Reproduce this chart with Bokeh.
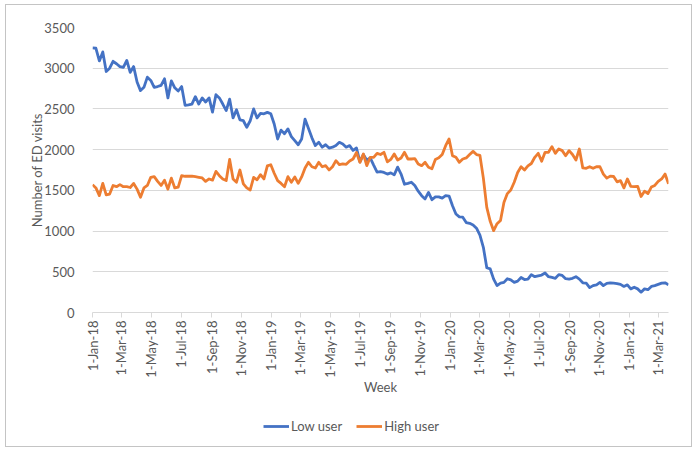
import datetime as dt
from bokeh.plotting import figure
from bokeh.layouts import column
from bokeh.models import (ColumnDataSource, FixedTicker, Legend, LegendItem,
                          Range1d, SingleIntervalTicker)
from bokeh.embed import file_html
from bokeh.resources import INLINE

# ---------------- data ----------------
start_date = dt.datetime(2018, 1, 1)

low_user = [
    3250, 3245, 3090, 3200, 2960, 3000, 3085, 3055, 3020, 3010,
    3095, 2950, 3020, 2830, 2725, 2765, 2890, 2850, 2765, 2775,
    2790, 2870, 2635, 2845, 2760, 2720, 2775, 2545, 2550, 2560,
    2650, 2560, 2635, 2585, 2635, 2460, 2675,
    2635, 2560, 2480, 2620, 2390, 2490, 2365, 2355, 2275, 2355,
    2500, 2390, 2445, 2440, 2458, 2440, 2315, 2130, 2240, 2195,
    2255, 2160, 2110, 2060, 2130, 2375, 2260, 2145, 2050, 2090,
    2030, 2060, 2020, 2030, 2050, 2090, 2070, 2030, 2050, 1990,
    2020, 1850,
    1940, 1870, 1900, 1810, 1725, 1730, 1720, 1700, 1715, 1690,
    1785, 1700, 1575, 1585, 1600, 1560, 1490, 1435, 1395, 1475,
    1385, 1420, 1420, 1405, 1435, 1430, 1310, 1210, 1175, 1170,
    1105, 1095, 1075, 1035, 950, 800, 550, 535, 410, 330,
    360, 370, 415, 400, 370, 385, 430, 405, 410, 465,
    440, 450, 460, 485, 440, 430, 420, 465, 455, 415,
    410, 420, 440, 410, 365, 360, 305, 330, 340, 370,
    330, 358, 365, 360, 355, 345, 320, 340, 290, 310,
    290, 250, 290, 280, 320, 330, 345, 360, 365, 340,
]

high_user = [
    1570, 1530, 1435, 1585, 1445, 1455, 1560, 1545, 1570, 1545,
    1545, 1535, 1585, 1515, 1415, 1530, 1560, 1660, 1668, 1610,
    1560, 1625, 1515, 1650, 1530, 1540, 1680, 1673, 1673, 1675,
    1668, 1660, 1652, 1610, 1640, 1625, 1733,
    1680, 1640, 1620, 1880, 1640, 1600, 1750, 1580, 1530, 1505,
    1660, 1630, 1693, 1640, 1800, 1815, 1710, 1620, 1585, 1545,
    1668, 1600, 1665, 1586, 1665, 1775, 1844, 1790, 1775, 1844,
    1790, 1803, 1750, 1790, 1865, 1815, 1825, 1820, 1860, 1885,
    1965, 1844, 1947, 1803, 1906, 1906, 1955, 1940, 1967, 1850,
    1880, 1947, 1873, 1898, 1967, 1885, 1885, 1890, 1824, 1803,
    1844, 1783, 1765, 1880, 1900, 1940, 2049, 2131, 1926, 1906,
    1844, 1885, 1898, 1940, 1979, 1940, 1930, 1650, 1290, 1120,
    1005, 1090, 1130, 1350, 1460, 1505, 1600, 1720, 1790, 1750,
    1800, 1830, 1906, 1955, 1857, 1967, 1967, 2037, 1955, 2008,
    1988, 1926, 1988, 1940, 1873, 2008, 1775, 1770, 1791, 1770,
    1791, 1790, 1700, 1650, 1675, 1670, 1605, 1619, 1530, 1640,
    1550, 1545, 1550, 1425, 1490, 1460, 1540, 1560, 1610, 1640,
    1700, 1580,
]

weeks = [start_date + dt.timedelta(weeks=i) for i in range(len(low_user))]

tick_dates = []
y_, m_ = 2018, 1
while (y_, m_) <= (2021, 3):
    tick_dates.append(dt.datetime(y_, m_, 1))
    m_ += 2
    if m_ > 12:
        m_ -= 12
        y_ += 1
tick_labels = [f"{d.day}-{d.strftime('%b')}-{d.strftime('%y')}" for d in tick_dates]

series_names = ["Low user", "High user"]
series_colors = ["#4472C4", "#ED7D31"]

# ---------------- figure ----------------
FONT = "Lato"
TXT = "#595959"
GRID = "#d9d9d9"

def ms(d):
    return (d - dt.datetime(1970, 1, 1)).total_seconds() * 1000.0

W = 685
p = figure(width=W, height=408, x_axis_type="datetime",
           output_backend="svg", toolbar_location=None,
           min_border_left=86, min_border_right=23,
           min_border_top=22, min_border_bottom=101,
           x_range=Range1d(ms(weeks[0]), ms(weeks[-1])),
           y_range=Range1d(0, 3500))
p.outline_line_color = None
p.background_fill_color = "white"
p.border_fill_color = "white"

src = ColumnDataSource(dict(week=weeks, low=low_user, high=high_user))
p.line("week", "low", source=src, line_color=series_colors[0],
       line_width=2.8, line_join="round")
p.line("week", "high", source=src, line_color=series_colors[1],
       line_width=2.8, line_join="round")

# x axis
xa = p.xaxis[0]
xa.ticker = FixedTicker(ticks=[ms(d) for d in tick_dates])
xa.major_label_overrides = {ms(d): lab for d, lab in zip(tick_dates, tick_labels)}
xa.major_label_orientation = 1.5707963267948966
xa.major_label_text_font = FONT
xa.major_label_text_font_size = "13px"
xa.major_label_text_color = TXT
xa.axis_line_color = GRID
xa.major_tick_line_color = GRID
xa.major_tick_out = 5
xa.major_tick_in = 0
xa.minor_tick_line_color = None
xa.major_label_standoff = 3
xa.axis_label = "Week"
xa.axis_label_text_font = FONT
xa.axis_label_text_font_size = "13px"
xa.axis_label_text_font_style = "normal"
xa.axis_label_text_color = TXT
xa.axis_label_standoff = -2

# y axis
ya = p.yaxis[0]
ya.ticker = SingleIntervalTicker(interval=500)
ya.major_label_text_font = FONT
ya.major_label_text_font_size = "13px"
ya.major_label_text_color = TXT
ya.axis_line_color = None
ya.major_tick_line_color = None
ya.minor_tick_line_color = None
ya.major_label_standoff = 12
ya.axis_label = "Number of ED visits"
ya.axis_label_text_font = FONT
ya.axis_label_text_font_size = "13px"
ya.axis_label_text_font_style = "normal"
ya.axis_label_text_color = TXT
ya.axis_label_standoff = -4

p.xgrid.grid_line_color = None
p.ygrid.grid_line_color = GRID
p.ygrid.ticker = SingleIntervalTicker(interval=500)

# ---------------- legend strip ----------------
lf = figure(width=W, height=33, output_backend="svg", toolbar_location=None,
            min_border_left=0, min_border_right=0, min_border_top=0,
            min_border_bottom=0, x_axis_location=None, y_axis_location=None,
            x_range=Range1d(ms(weeks[0]), ms(weeks[-1])),
            y_range=Range1d(-2, -1))
lf.outline_line_color = None
lf.grid.grid_line_color = None
lf.background_fill_color = "white"
lf.border_fill_color = "white"
lr_low = lf.line("week", "low", source=src, line_color=series_colors[0], line_width=2.8)
lr_high = lf.line("week", "high", source=src, line_color=series_colors[1], line_width=2.8)

legend = Legend(items=[LegendItem(label=series_names[0], renderers=[lr_low]),
                       LegendItem(label=series_names[1], renderers=[lr_high])],
                location=(171, 10), orientation="horizontal",
                border_line_color=None, background_fill_alpha=0,
                padding=0, margin=0, spacing=14, label_standoff=2,
                glyph_width=26, glyph_height=20,
                label_text_font=FONT, label_text_font_size="13px",
                label_text_color=TXT)
lf.add_layout(legend)

layout = column(p, lf, spacing=0,
                styles={"border": "1px solid #c4c4c4", "margin-left": "5px",
                        "margin-top": "4px", "background": "white"})

open("out.html", "w").write(file_html(layout, INLINE))
